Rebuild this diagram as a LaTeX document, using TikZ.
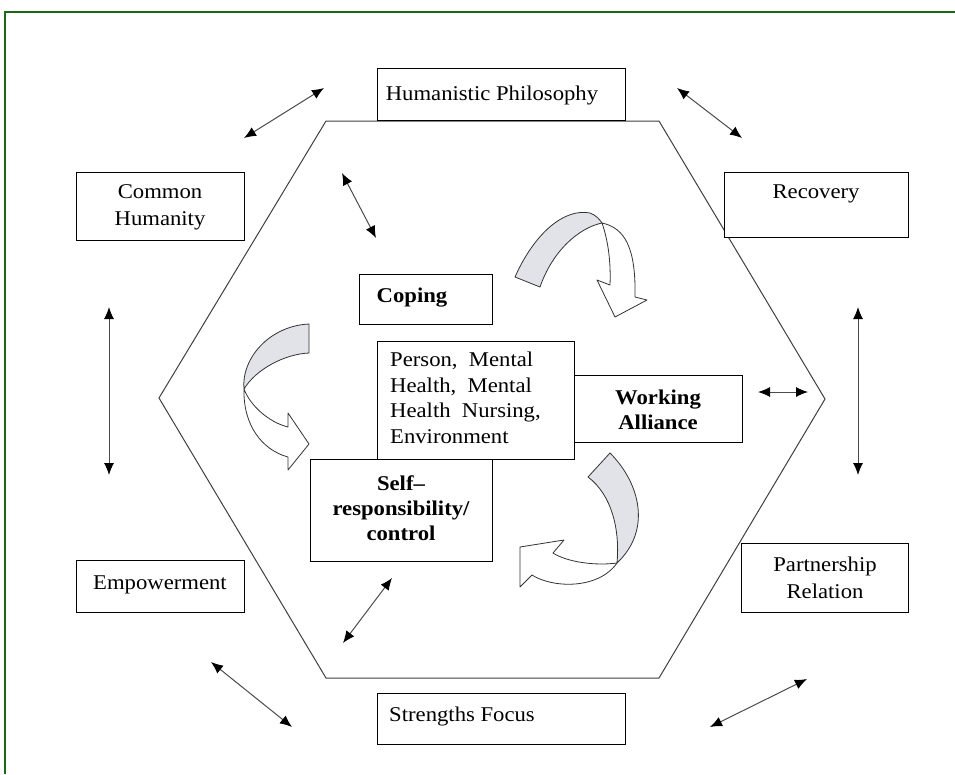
\documentclass[tikz,border=0pt]{standalone}
\usepackage{fontspec}
\setmainfont[FakeStretch=1.08]{Liberation Serif}
\usetikzlibrary{arrows.meta}
\definecolor{framegreen}{RGB}{25,105,25}
\definecolor{bandgray}{RGB}{226,227,232}
\begin{document}
\begin{tikzpicture}[x=1pt,y=-1pt,
  box/.style={draw=black, line width=1.3pt, fill=white, inner sep=0pt, anchor=north west},
  lbl/.style={font=\fontsize{21}{27}\selectfont, inner sep=0pt, align=center},
  blbl/.style={font=\fontsize{21}{25}\selectfont\bfseries, inner sep=0pt, align=center},
  dbl/.style={draw=black!70, line width=1pt, {Latex[length=12pt,width=10pt,color=black]}-{Latex[length=12pt,width=10pt,color=black]}},
  hexline/.style={draw=black!75, line width=1pt},
  band/.style={draw=black!80, line width=0.8pt, fill=bandgray, line join=round},
  whitepart/.style={draw=black!80, line width=0.8pt, fill=white, line join=round}]
\useasboundingbox (0,0) rectangle (955,774);
\fill[white] (0,0) rectangle (955,774);
% frame
\draw[framegreen, line width=2pt] (5,774) -- (5,12) -- (955,12);
% hexagon
\draw[hexline] (326,121) -- (659,121) -- (825,399) -- (659,678) -- (326,678) -- (159,398) -- cycle;
% boxes
\node[box, minimum width=248pt, minimum height=52pt] (hp) at (377,68) {};
\node[box, minimum width=168pt, minimum height=68pt] (ch) at (76,172) {};
\node[box, minimum width=184pt, minimum height=65pt] (rec) at (724,172) {};
\node[box, minimum width=133pt, minimum height=50pt] (cop) at (359,274) {};
\node[box, minimum width=182pt, minimum height=102pt] (self) at (310,459) {};
\node[box, minimum width=197pt, minimum height=118pt] (per) at (377,341) {};
\node[box, minimum width=168pt, minimum height=67pt] (wa) at (574,375) {};
\node[box, minimum width=168pt, minimum height=52pt] (emp) at (76,560) {};
\node[box, minimum width=167pt, minimum height=69pt] (par) at (741,543) {};
\node[box, minimum width=248pt, minimum height=51pt] (sf) at (377,693) {};
% texts
\node[lbl] (hpt) at (492,95) {Humanistic Philosophy};
\node[lbl] (cht) at (160,207) {Common\\Humanity};
\node[lbl] (rect) at (816,194) {Recovery};
\node[blbl] (copt) at (412,298) {Coping};
\node[font=\fontsize{21}{25.5}\selectfont, inner sep=0pt, align=left, anchor=north west] (pert) at (390,352)
  {Person,\ \ Mental\\Health,\ \ Mental\\Health\ \ Nursing,\\Environment};
\node[blbl] (wat) at (658,410) {Working\\Alliance};
\node[blbl] (selft) at (401,508) {Self–\\responsibility/\\control};
\node[lbl] (empt) at (160,585) {Empowerment};
\node[lbl] (part) at (825,578) {Partnership\\Relation};
\node[lbl] (sft) at (462,716) {Strengths Focus};
% double arrows
\coordinate (a1s) at (244,138); \coordinate (a1e) at (324,88);
\coordinate (a2s) at (677,88);  \coordinate (a2e) at (742,138);
\coordinate (a3s) at (342,173); \coordinate (a3e) at (376,238);
\coordinate (a4s) at (109,307); \coordinate (a4e) at (109,475);
\coordinate (a5s) at (858,307); \coordinate (a5e) at (858,475);
\coordinate (a6s) at (758,392); \coordinate (a6e) at (808,392);
\coordinate (a7s) at (392,578); \coordinate (a7e) at (343,643);
\coordinate (a8s) at (211,662); \coordinate (a8e) at (292,727);
\coordinate (a9s) at (710,727); \coordinate (a9e) at (807,679);
\draw[dbl] (a1s) -- (a1e);
\draw[dbl] (a2s) -- (a2e);
\draw[dbl] (a3s) -- (a3e);
\draw[dbl] (a4s) -- (a4e);
\draw[dbl] (a5s) -- (a5e);
\draw[dbl] (a6s) -- (a6e);
\draw[dbl] (a7s) -- (a7e);
\draw[dbl] (a8s) -- (a8e);
\draw[dbl] (a9s) -- (a9e);
% curved block arrow 1 (top right)
\draw[band] (515,277) .. controls (535,232) and (565,208) .. (590,213)
  .. controls (596,215) and (600,220) .. (602,223)
  .. controls (578,228) and (552,252) .. (540,287) -- cycle;
\draw[whitepart] (602,223) .. controls (625,228) and (636,248) .. (635,297)
  -- (647,300) -- (615,317) -- (597,280) -- (610,285)
  .. controls (611,262) and (608,240) .. (602,223) -- cycle;
% curved block arrow 2 (left)
\draw[band] (309,324) -- (309,353) .. controls (285,354) and (256,369) .. (244,389)
  .. controls (241,360) and (268,326) .. (309,324) -- cycle;
\draw[whitepart] (244,389) .. controls (250,405) and (268,422) .. (288,427)
  -- (288,413) -- (309,444) -- (288,470) -- (288,457)
  .. controls (262,450) and (243,425) .. (244,389) -- cycle;
% curved block arrow 3 (bottom right)
\draw[band] (588,477) -- (610,453) .. controls (640,483) and (652,530) .. (617,563)
  .. controls (620,530) and (612,495) .. (588,477) -- cycle;
\draw[whitepart] (617,563) .. controls (595,566) and (567,562) .. (553,553)
  -- (564,540) -- (520,547) -- (520,587) -- (532,575)
  .. controls (552,588) and (598,590) .. (617,563) -- cycle;
\end{tikzpicture}
\end{document}
